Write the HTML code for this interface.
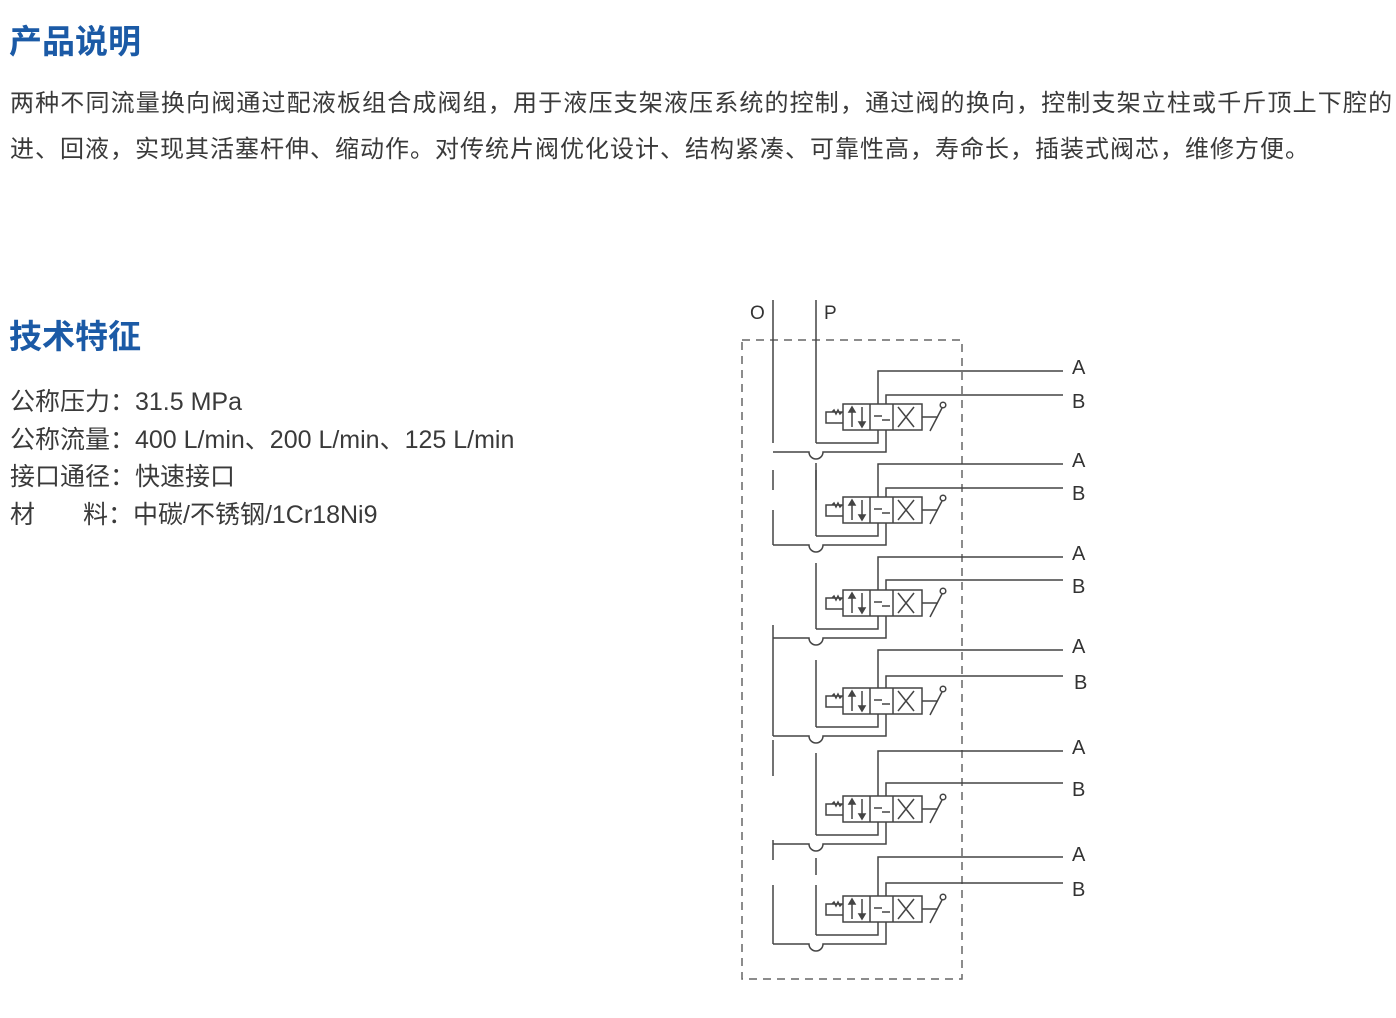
<!DOCTYPE html>
<html><head><meta charset="utf-8"><style>
body{margin:0;width:1396px;height:1018px;background:#fff;position:relative;overflow:hidden;font-family:"Liberation Sans","Noto Sans CJK SC",sans-serif;}
.h{position:absolute;left:9px;font-size:33px;font-weight:bold;color:#1b5aa6;line-height:1;}
.p{position:absolute;left:10px;font-size:24px;color:#3a3a3a;white-space:nowrap;line-height:1;}
.s{position:absolute;left:10px;font-size:25px;color:#3a3a3a;white-space:nowrap;line-height:1;}
svg{position:absolute;left:0;top:0;}
</style></head><body>
<div class="h" style="top:25px">产品说明</div>
<div class="p" style="top:92px;letter-spacing:1.15px">两种不同流量换向阀通过配液板组合成阀组，用于液压支架液压系统的控制，通过阀的换向，控制支架立柱或千斤顶上下腔的</div>
<div class="p" style="top:138px;letter-spacing:1.0px">进、回液，实现其活塞杆伸、缩动作。对传统片阀优化设计、结构紧凑、可靠性高，寿命长，插装式阀芯，维修方便。</div>
<div class="h" style="top:320px">技术特征</div>
<div class="s" style="top:390px">公称压力：31.5 MPa</div>
<div class="s" style="top:428px">公称流量：400 L/min、200 L/min、125 L/min</div>
<div class="s" style="top:465px">接口通径：快速接口</div>
<div class="s" style="top:503px">材<span style="display:inline-block;width:48px"></span>料：中碳/不锈钢/1Cr18Ni9</div>
<svg width="1396" height="1018" font-family="Liberation Sans, sans-serif">
<defs>
<g id="v" fill="none" stroke="#444" stroke-width="1.5">
<rect x="843" y="0" width="79" height="26"/>
<line x1="870" y1="0" x2="870" y2="26"/><line x1="893" y1="0" x2="893" y2="26"/>
<line x1="852" y1="4" x2="852" y2="23"/><path d="M849 8 L852 3 L855 8Z" fill="#444"/>
<line x1="862" y1="3" x2="862" y2="22"/><path d="M859 18 L862 23 L865 18Z" fill="#444"/>
<line x1="874" y1="12" x2="882" y2="12"/><line x1="882" y1="16" x2="890" y2="16"/>
<line x1="898" y1="3" x2="914" y2="23"/><line x1="914" y1="3" x2="898" y2="23"/>
<path d="M843 8 L832 8 L834 6 L836 10 L838 6 L840 10 L842 8 M832 8 L826 8 L826 19 L843 19"/>
<path d="M922 13 L938 13 M930 27 L942 4"/><circle cx="943" cy="1" r="2.8"/>
</g>
</defs>
<text x="750" y="319" font-size="19" fill="#333">O</text>
<text x="824" y="319" font-size="19" fill="#333">P</text>
<rect x="742" y="340" width="220" height="639" fill="none" stroke="#666" stroke-width="1.5" stroke-dasharray="8,6"/>
<g fill="none" stroke="#444" stroke-width="1.5">
<line x1="773" y1="300" x2="773" y2="443"/><line x1="816" y1="300" x2="816" y2="443"/>
<line x1="773" y1="470" x2="773" y2="490" /><line x1="816" y1="470" x2="816" y2="490"/>
<line x1="773" y1="510" x2="773" y2="545"/><line x1="816" y1="463" x2="816" y2="536"/>
<line x1="816" y1="563" x2="816" y2="629"/><line x1="773" y1="625" x2="773" y2="736"/>
<line x1="816" y1="660" x2="816" y2="727"/><line x1="816" y1="753" x2="816" y2="835"/>
<line x1="773" y1="740" x2="773" y2="776"/><line x1="773" y1="840" x2="773" y2="860"/>
<line x1="816" y1="858" x2="816" y2="875"/><line x1="816" y1="885" x2="816" y2="935"/>
<line x1="773" y1="885" x2="773" y2="944"/>
</g>
<g fill="none" stroke="#444" stroke-width="1.5">
<use href="#v" y="404"/>
<path d="M1063 371 H878 V404 M878 430 V443 H816"/>
<path d="M1063 395 H886 V404 M886 430 V452 H823 A7 7 0 0 1 809 452 H773"/>
<use href="#v" y="497"/>
<path d="M1063 464 H878 V497 M878 523 V536 H816"/>
<path d="M1063 488 H886 V497 M886 523 V545 H823 A7 7 0 0 1 809 545 H773"/>
<use href="#v" y="590"/>
<path d="M1063 557 H878 V590 M878 616 V629 H816"/>
<path d="M1063 580 H886 V590 M886 616 V638 H823 A7 7 0 0 1 809 638 H773"/>
<use href="#v" y="688"/>
<path d="M1063 650 H878 V688 M878 714 V727 H816"/>
<path d="M1063 676 H886 V688 M886 714 V736 H823 A7 7 0 0 1 809 736 H773"/>
<use href="#v" y="796"/>
<path d="M1063 751 H878 V796 M878 822 V835 H816"/>
<path d="M1063 783 H886 V796 M886 822 V844 H823 A7 7 0 0 1 809 844 H773"/>
<use href="#v" y="896"/>
<path d="M1063 857 H878 V896 M878 922 V935 H816"/>
<path d="M1063 883 H886 V896 M886 922 V944 H823 A7 7 0 0 1 809 944 H773"/>
</g>
<g font-size="20" fill="#333">
<text x="1072" y="374">A</text><text x="1072" y="408">B</text>
<text x="1072" y="467">A</text><text x="1072" y="500">B</text>
<text x="1072" y="560">A</text><text x="1072" y="593">B</text>
<text x="1072" y="653">A</text><text x="1074" y="689">B</text>
<text x="1072" y="754">A</text><text x="1072" y="796">B</text>
<text x="1072" y="861">A</text><text x="1072" y="896">B</text>
</g>
</svg>
</body></html>
